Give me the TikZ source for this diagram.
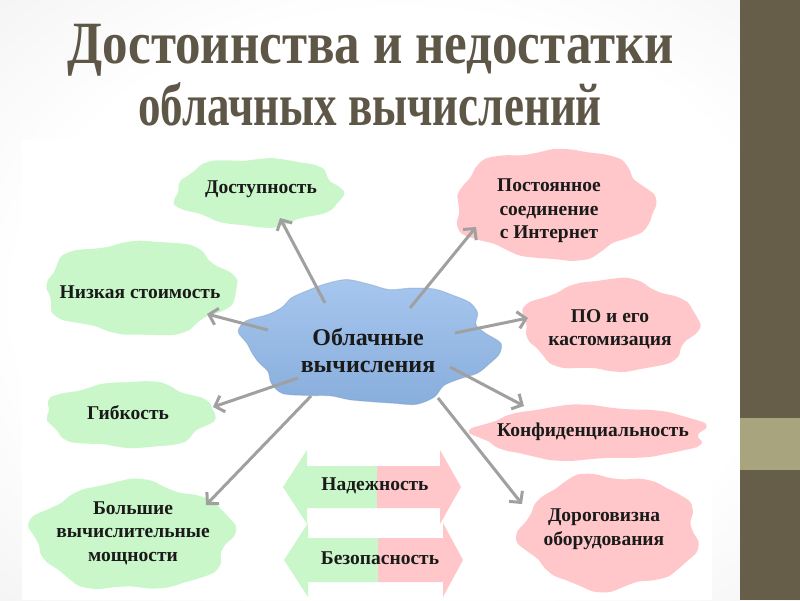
\documentclass[tikz,border=0pt]{standalone}
\usepackage{fontspec}
\setmainfont{Liberation Serif}
\usetikzlibrary{arrows.meta}
\definecolor{strip}{HTML}{665E48}
\definecolor{band}{HTML}{A8A47E}
\definecolor{titlec}{HTML}{5E5747}
\definecolor{cgreen}{HTML}{C9F7C9}
\definecolor{cpink}{HTML}{FFC7C9}
\definecolor{cblueT}{HTML}{A6C6EE}
\definecolor{cblueB}{HTML}{88AEDC}
\definecolor{arrc}{HTML}{A0A0A0}
\definecolor{txt}{HTML}{1A1A1A}
\pgfdeclareradialshading{bgshade}{\pgfpoint{0bp}{0bp}}{color(0bp)=(white); color(24bp)=(white); color(44bp)=(black!7); color(70bp)=(black!12)}
\newcommand\blob[6]{%
  \fill[#5] plot[smooth cycle, domain=0:350, samples=36, variable=\t]
   ({#1+#3*cos(\t)*(1+0.045*sin(5*\t+#6)+0.035*cos(9*\t+2*#6))},
    {#2+#4*sin(\t)*(1+0.045*sin(5*\t+#6)+0.035*cos(9*\t+2*#6))});}
\tikzset{
  lbl/.style={text=txt, font=\fontsize{19.5}{23.5}\selectfont\bfseries, align=center, inner sep=0pt},
  biglbl/.style={text=txt, font=\fontsize{24}{27}\selectfont\bfseries, align=center, inner sep=0pt},
  conn/.style={draw=arrc, line width=3pt, -{Straight Barb[length=8pt,width=17pt]}},
  ttl/.style={text=titlec, font=\fontsize{60}{66}\selectfont\bfseries, inner sep=0pt}
}
\begin{document}
\begin{tikzpicture}[x=1pt,y=-1pt]
\useasboundingbox (0,0) rectangle (800,600);
% background
\shade[shading=bgshade] (0,0) rectangle (800,600);
\fill[white] (22,140) rectangle (712,600);
\fill[strip] (740,0) rectangle (800,600);
\fill[band] (740,418) rectangle (800,470);
% title
\node[ttl, xscale=0.85] (t1) at (371,50) {Достоинства и недостатки};
\node[ttl, xscale=0.75] (t2) at (370,104) {облачных вычислений};
% clouds
\blob{258}{192}{83}{34}{cgreen}{10}
\blob{140}{288}{95}{47}{cgreen}{70}
\blob{129}{415}{84}{33}{cgreen}{130}
\blob{133}{536}{100}{54}{cgreen}{200}
\blob{554}{204}{99}{55}{cpink}{40}
\blob{610}{326}{87}{46}{cpink}{160}
\blob{592}{433}{115}{27}{cpink}{250}
\blob{610}{532}{88}{57}{cpink}{300}
% centre cloud
\shade[top color=cblueT, bottom color=cblueB, draw=cblueB!85!black, draw opacity=0.35, line width=1pt]
  plot[smooth cycle, domain=0:350, samples=36, variable=\t]
   ({370+124*cos(\t)*(1+0.07*sin(6*\t+20)+0.03*cos(11*\t))},
    {343+60*sin(\t)*(1+0.07*sin(6*\t+20)+0.03*cos(11*\t))});
% double arrows
\fill[cgreen] (377,466) -- (307,466) -- (307,450) -- (283,487) -- (307,524) -- (307,508) -- (377,508) -- cycle;
\fill[cpink] (377,466) -- (440,466) -- (440,450) -- (461,487) -- (440,524) -- (440,508) -- (377,508) -- cycle;
\fill[cgreen] (378,538) -- (308,538) -- (308,523) -- (284,560) -- (308,597) -- (308,582) -- (378,582) -- cycle;
\fill[cpink] (378,538) -- (443,538) -- (443,523) -- (463,560) -- (443,597) -- (443,582) -- (378,582) -- cycle;
% labels
\node[biglbl] (c)  at (368,351) {Облачные\\вычисления};
\node[lbl] (n1) at (261,189) {Доступность};
\node[lbl] (n2) at (140,292) {Низкая стоимость};
\node[lbl] (n3) at (128,413) {Гибкость};
\node[lbl] (n4) at (133,533) {Большие\\вычислительные\\мощности};
\node[lbl] (n5) at (549,211) {Постоянное\\соединение\\с Интернет};
\node[lbl] (n6) at (610,329) {ПО и его\\кастомизация};
\node[lbl] (n7) at (593,432) {Конфиденциальность};
\node[lbl] (n8) at (604,529) {Дороговизна\\оборудования};
\node[lbl] (d1) at (375,486) {Надежность};
\node[lbl] (d2) at (380,558) {Безопасность};
% connector end points
\coordinate (s1) at (325,303); \coordinate (e1) at (280,218);
\coordinate (s2) at (268,330); \coordinate (e2) at (207,314);
\coordinate (s3) at (298,378); \coordinate (e3) at (213,407);
\coordinate (s4) at (311,396); \coordinate (e4) at (206,505);
\coordinate (s5) at (410,308); \coordinate (e5) at (476,227);
\coordinate (s6) at (455,333); \coordinate (e6) at (528,318);
\coordinate (s7) at (450,367); \coordinate (e7) at (524,406);
\coordinate (s8) at (438,398); \coordinate (e8) at (522,504);
\foreach \i in {1,...,8} \draw[conn] (s\i) -- (e\i);
\end{tikzpicture}
\end{document}
